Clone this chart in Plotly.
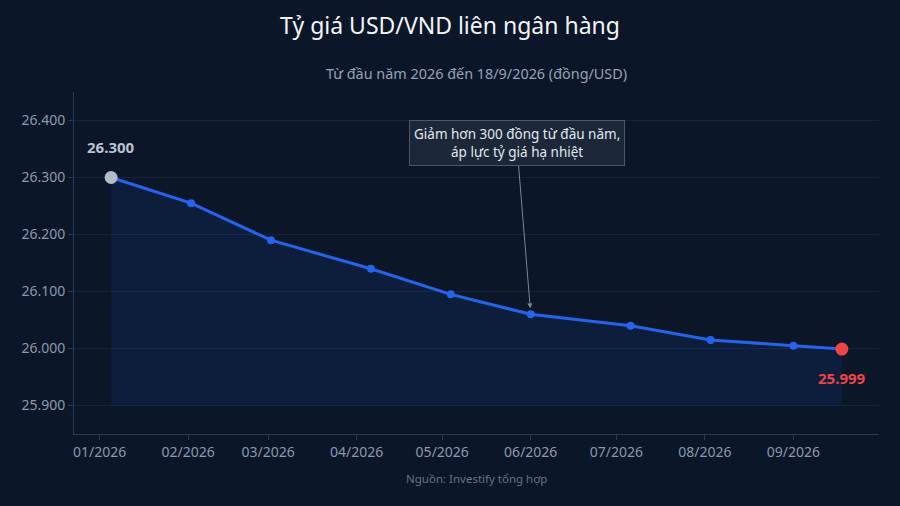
import plotly.graph_objects as go

dates = ["2026-01-05", "2026-02-02", "2026-03-02", "2026-04-06", "2026-05-04",
         "2026-06-01", "2026-07-06", "2026-08-03", "2026-09-01", "2026-09-18"]
rates = [26300, 26255, 26190, 26140, 26095, 26060, 26040, 26015, 26005, 25999]
baseline_value = 25900
tick_dates = ["2026-01-01", "2026-02-01", "2026-03-01", "2026-04-01", "2026-05-01",
              "2026-06-01", "2026-07-01", "2026-08-01", "2026-09-01"]
tick_labels = ["01/2026", "02/2026", "03/2026", "04/2026", "05/2026",
               "06/2026", "07/2026", "08/2026", "09/2026"]
y_ticks = [25900, 26000, 26100, 26200, 26300, 26400]
y_tick_labels = ["25.900", "26.000", "26.100", "26.200", "26.300", "26.400"]
start_label = "26.300"
end_label = "25.999"

BG = "#0b1628"
BLUE = "#2563eb"
FONT = "Noto Sans"

fig = go.Figure()
fig.add_trace(go.Scatter(x=dates, y=[baseline_value] * len(dates), mode="lines",
                         line=dict(width=0), hoverinfo="skip", showlegend=False))
fig.add_trace(go.Scatter(x=dates, y=rates, mode="lines+markers",
                         line=dict(color=BLUE, width=3),
                         marker=dict(size=8, color=BLUE),
                         fill="tonexty", fillcolor="rgba(37,99,235,0.11)",
                         showlegend=False))
fig.add_trace(go.Scatter(x=[dates[0]], y=[rates[0]], mode="markers",
                         marker=dict(size=13, color="#b3bdca"), showlegend=False))
fig.add_trace(go.Scatter(x=[dates[-1]], y=[rates[-1]], mode="markers",
                         marker=dict(size=13, color="#ef4444"), showlegend=False))

fig.add_annotation(x=dates[0], y=rates[0], text="<b>" + start_label + "</b>",
                   showarrow=False, yshift=31,
                   font=dict(size=15, color="#b8c3d1", family=FONT))
fig.add_annotation(x=dates[-1], y=rates[-1], text="<b>" + end_label + "</b>",
                   showarrow=False, yshift=-29,
                   font=dict(size=15, color="#ef4444", family=FONT))

fig.add_annotation(x=dates[5], y=rates[5], xref="x", yref="y",
                   text="Giảm hơn 300 đồng từ đầu năm,<br>áp lực tỷ giá hạ nhiệt",
                   showarrow=True, ax=-14, ay=-171, arrowhead=2, arrowsize=1,
                   arrowwidth=1, arrowcolor="#7b8798", standoff=6,
                   font=dict(size=13.5, color="#e2e8f0", family=FONT),
                   bgcolor="#1c2839", bordercolor="#4a586c", borderwidth=1, borderpad=4)

fig.add_annotation(text="Từ đầu năm 2026 đến 18/9/2026 (đồng/USD)", xref="paper", yref="paper",
                   x=0.5, y=1.0, yshift=19, showarrow=False, yanchor="middle",
                   font=dict(size=14.4, color="#94a3b8", family=FONT))
fig.add_annotation(text="Nguồn: Investify tổng hợp", xref="paper", yref="paper",
                   x=0.5, y=0, yshift=-44, showarrow=False, yanchor="middle",
                   font=dict(size=11.5, color="#64748b", family=FONT))

fig.update_layout(
    width=900, height=506,
    paper_bgcolor=BG, plot_bgcolor=BG,
    margin=dict(l=73.5, r=21, t=92, b=72),
    title=dict(text="Tỷ giá USD/VND liên ngân hàng", x=0.5, xanchor="center",
               y=0.948, yanchor="middle",
               font=dict(size=23, color="#f1f5f9", family=FONT)),
    font=dict(family=FONT),
    xaxis=dict(type="date", range=["2025-12-23", "2026-10-01"],
               tickvals=tick_dates, ticktext=tick_labels,
               showgrid=False, zeroline=False,
               showline=True, linecolor="#2a3a52", linewidth=1,
               ticks="outside", ticklen=5, tickcolor="#2a3a52",
               tickfont=dict(size=14, color="#8a99ae")),
    yaxis=dict(range=[25850, 26450], tickvals=y_ticks, ticktext=y_tick_labels,
               showgrid=True, gridcolor="#16233a", gridwidth=1, zeroline=False,
               showline=True, linecolor="#2a3a52", linewidth=1,
               ticks="outside", ticklen=5, tickcolor="#2a3a52",
               tickfont=dict(size=14, color="#8a99ae")),
)

fig.write_html("out.html", config={"displayModeBar": False},
               post_script="document.body.style.margin='0';document.body.style.background='#0b1628';")
